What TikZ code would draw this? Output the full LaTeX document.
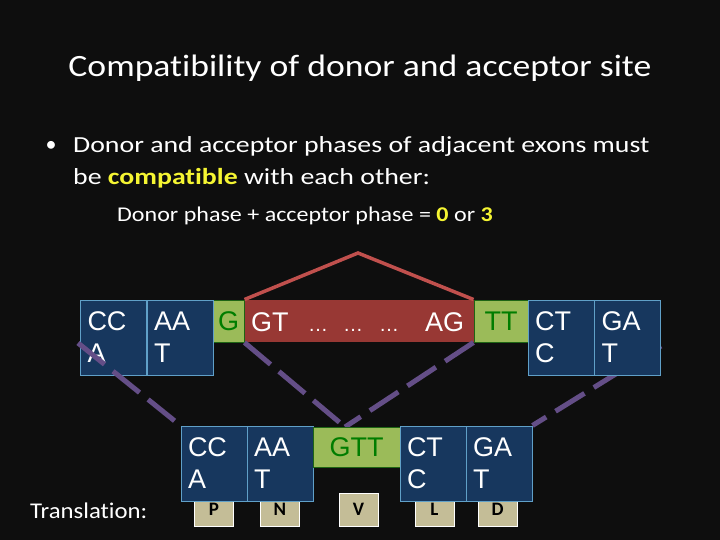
\documentclass[tikz,border=0pt]{standalone}
\usepackage{fontspec}
\setmainfont{Carlito}[Ligatures=NoCommon]
\newfontfamily\arialf{Liberation Sans}
\definecolor{bgc}{RGB}{14,14,14}
\definecolor{bfill}{RGB}{23,55,94}
\definecolor{bborder}{RGB}{96,160,200}
\definecolor{gfill}{RGB}{155,187,89}
\definecolor{gborder}{RGB}{30,100,20}
\definecolor{gtext}{RGB}{0,125,0}
\definecolor{rfill}{RGB}{152,56,52}
\definecolor{rline}{RGB}{192,80,77}
\definecolor{pline}{RGB}{100,78,135}
\definecolor{tanc}{RGB}{196,189,151}
\definecolor{yel}{RGB}{245,245,50}
\tikzset{
  bbox/.style={draw=bborder, fill=bfill, line width=1pt, minimum width=66pt, minimum height=75pt, inner sep=0pt, text width=52pt, align=left, text=white, font=\arialf\fontsize{27}{32}\selectfont},
  gbox/.style={draw=gborder, fill=gfill, line width=1pt, inner sep=0pt, text=gtext, font=\arialf\fontsize{27}{32}\selectfont},
  rbar/.style={fill=rfill, inner sep=0pt},
  bartxt/.style={anchor=base west, inner sep=0pt, text=white, font=\arialf\fontsize{27}{32}\selectfont},
  dots/.style={anchor=base west, inner sep=0pt, text=white, font=\arialf\fontsize{20}{24}\selectfont},
  tbox/.style={draw=white, fill=tanc, line width=1pt, minimum width=39pt, minimum height=33pt, inner sep=0pt, font=\bfseries\fontsize{19}{22}\selectfont, text=black},
  rlink/.style={draw=rline, line width=3.5pt},
  plink/.style={draw=pline, line width=5pt, dash pattern=on 34pt off 11pt},
  txt/.style={anchor=base west, inner sep=0pt, text=white}
}
\begin{document}
\begin{tikzpicture}[x=1pt,y=-1pt]
\useasboundingbox (0,0) rectangle (720,540);
\fill[bgc] (0,0) rectangle (720,540);

% title and text
\node[anchor=base, inner sep=0pt, text=white, font=\fontsize{31}{36}\selectfont] (title) at (360,77) {\scalebox{1.15}[1]{Compatibility of donor and acceptor site}};
\node[inner sep=0pt, text=white, font=\fontsize{22}{26}\selectfont] (bul) at (51,146) {•};
\node[txt, font=\fontsize{23}{26}\selectfont] (l1) at (73,153) {\scalebox{1.21}[1]{Donor and acceptor phases of adjacent exons must}};
\node[txt, font=\fontsize{23}{26}\selectfont] (l2) at (73,185) {\scalebox{1.21}[1]{be \textcolor{yel}{\bfseries compatible} with each other:}};
\node[txt, font=\fontsize{21}{24}\selectfont] (l3) at (117,222) {\scalebox{1.145}[1]{Donor phase + acceptor phase = \textcolor{yel}{\bfseries 0} or \textcolor{yel}{\bfseries 3}}};
\node[txt, font=\fontsize{22.5}{26}\selectfont] (trl) at (30,518) {\scalebox{1.1}[1]{Translation:}};

% coordinates
\coordinate (peak) at (358,253);
\coordinate (l1s) at (78,343);
\coordinate (l4s) at (661,346);
\coordinate (meet) at (345,427);

% back purple link (behind GAT box)
\node[bbox, draw=none, fill=none] (ghost) at (499,463.5) {};
\draw[plink] (l4s) -- (ghost.north east);

% top row
\node[rbar, minimum width=230pt, minimum height=42pt] (bar) at (359,321) {};
\node[gbox, minimum width=31pt, minimum height=42pt] (g1) at (228.5,321) {G};
\node[gbox, minimum width=54pt, minimum height=42pt] (tt) at (501,321) {TT};
\draw[rlink] (g1.north east) -- (peak) -- (tt.north west);
\node[bbox] (a1) at (113.5,337.5) {CC\\A};
\node[bbox] (a2) at (180,337.5) {AA\\T};
\node[bbox] (a3) at (561,337.5) {CT\\C};
\node[bbox] (a4) at (627.5,337.5) {GA\\T};
\node[bartxt] (gt) at (251,331) {GT};
\node[dots] (d1) at (308,331) {…};
\node[dots] (d2) at (343,331) {…};
\node[dots] (d3) at (379,331) {…};
\node[bartxt] (ag) at (425,331) {AG};

% purple links
\draw[plink] (l1s) -- (214-33,426);
\draw[plink] (g1.south east) -- (meet);
\draw[plink] (tt.south west) -- (meet);

% translation boxes
\node[tbox] (p) at (214,509.5) {P};
\node[tbox] (n) at (280,509.5) {N};
\node[tbox] (v) at (358.5,509.5) {V};
\node[tbox] (l) at (434.5,509.5) {L};
\node[tbox] (dd) at (497.5,509.5) {D};

% bottom row
\node[bbox] (b1) at (214,463.5) {CC\\A};
\node[bbox] (b2) at (280,463.5) {AA\\T};
\node[gbox, minimum width=87pt, minimum height=40pt] (gtt) at (356.5,447) {GTT};
\node[bbox] (b3) at (433,463.5) {CT\\C};
\node[bbox] (b4) at (499,463.5) {GA\\T};
\end{tikzpicture}
\end{document}
